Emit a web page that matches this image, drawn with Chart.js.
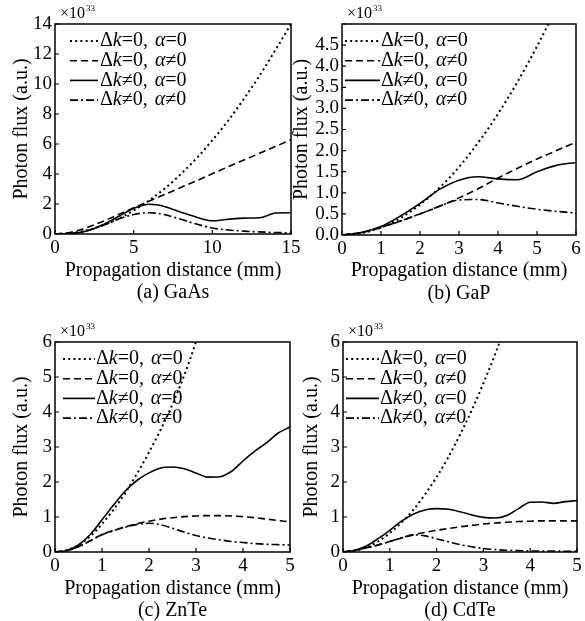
<!DOCTYPE html>
<html>
<head>
<meta charset="utf-8">
<script src="https://cdn.jsdelivr.net/npm/chart.js@4.4.1/dist/chart.umd.min.js"></script>
<style>
  html, body { margin: 0; padding: 0; background: #fff; width: 585px; height: 621px; overflow: hidden; }
  body { position: relative; }
  canvas { position: absolute; }
</style>
</head>
<body>
<canvas id="gaas" width="300" height="310" style="left:0;top:0"></canvas>
<canvas id="gap" width="295" height="310" style="left:290px;top:0"></canvas>
<canvas id="znte" width="300" height="318" style="left:0;top:310px"></canvas>
<canvas id="cdte" width="295" height="318" style="left:290px;top:310px"></canvas>
<script>
// legend labels, same order in every panel
const seriesLabels = ["Δk=0, α=0", "Δk=0, α≠0", "Δk≠0, α=0", "Δk≠0, α≠0"];

// (a) GaAs
const gaasX = [0, 1, 2, 3, 4, 5, 6, 7, 8, 9, 10, 11, 12, 13, 14, 15];
const gaasDotted = [0, 0.06, 0.25, 0.56, 1.0, 1.56, 2.25, 3.05, 4.0, 5.05, 6.25, 7.55, 9.0, 10.55, 12.25, 14.0];
const gaasDashed = [0, 0.12, 0.42, 0.82, 1.28, 1.75, 2.2, 2.65, 3.1, 3.55, 4.02, 4.48, 4.93, 5.38, 5.83, 6.28];
const gaasSolid = [0, 0.03, 0.2, 0.6, 1.15, 1.7, 1.98, 1.82, 1.45, 1.12, 0.88, 0.98, 1.06, 1.08, 1.4, 1.42];
const gaasDashDot = [0, 0.03, 0.2, 0.55, 0.98, 1.3, 1.42, 1.28, 0.98, 0.66, 0.4, 0.27, 0.19, 0.14, 0.1, 0.08];

// (b) GaP
const gapX = [0, 0.5, 1, 1.5, 2, 2.5, 3, 3.5, 4, 4.5, 5, 5.5, 6];
const gapDotted = [0, 0.045, 0.18, 0.4, 0.72, 1.12, 1.61, 2.2, 2.87, 3.63, 4.47, 5.4, 6.4];
const gapDashed = [0, 0.06, 0.18, 0.33, 0.5, 0.68, 0.88, 1.1, 1.35, 1.58, 1.8, 2.0, 2.2];
const gapSolid = [0, 0.06, 0.2, 0.45, 0.75, 1.08, 1.3, 1.38, 1.33, 1.31, 1.5, 1.65, 1.72];
const gapDashDot = [0, 0.06, 0.18, 0.33, 0.5, 0.68, 0.83, 0.84, 0.76, 0.68, 0.61, 0.56, 0.52];

// (c) ZnTe
const znteX = [0, 0.25, 0.5, 0.75, 1, 1.25, 1.5, 1.75, 2, 2.25, 2.5, 2.75, 3, 3.25, 3.5, 3.75, 4, 4.25, 4.5, 4.75, 5];
const znteDotted = [0, 0.05, 0.2, 0.45, 0.8, 1.22, 1.7, 2.25, 2.85, 3.5, 4.22, 5.05, 6.0, 7.0];
const znteDashed = [0, 0.04, 0.15, 0.32, 0.5, 0.62, 0.72, 0.81, 0.88, 0.94, 0.98, 1.01, 1.03, 1.04, 1.04, 1.03, 1.01, 0.98, 0.94, 0.9, 0.86];
const znteSolid = [0, 0.04, 0.2, 0.5, 0.92, 1.35, 1.75, 2.05, 2.26, 2.4, 2.43, 2.38, 2.26, 2.14, 2.15, 2.3, 2.6, 2.88, 3.12, 3.4, 3.57];
const znteDashDot = [0, 0.04, 0.15, 0.32, 0.49, 0.61, 0.71, 0.79, 0.82, 0.78, 0.68, 0.57, 0.47, 0.4, 0.35, 0.3, 0.27, 0.24, 0.22, 0.21, 0.2];

// (d) CdTe
const cdteX = [0, 0.25, 0.5, 0.75, 1, 1.25, 1.5, 1.75, 2, 2.25, 2.5, 2.75, 3, 3.25, 3.5, 3.75, 4, 4.25, 4.5, 4.75, 5];
const cdteDotted = [0, 0.03, 0.13, 0.3, 0.54, 0.84, 1.2, 1.64, 2.14, 2.71, 3.35, 4.05, 4.82, 5.65, 6.55];
const cdteDashed = [0, 0.05, 0.12, 0.2, 0.3, 0.4, 0.49, 0.56, 0.62, 0.67, 0.72, 0.76, 0.8, 0.83, 0.85, 0.87, 0.88, 0.89, 0.89, 0.89, 0.89];
const cdteSolid = [0, 0.05, 0.17, 0.38, 0.62, 0.88, 1.08, 1.2, 1.24, 1.22, 1.15, 1.06, 0.99, 0.97, 1.04, 1.24, 1.42, 1.43, 1.39, 1.44, 1.47];
const cdteDashDot = [0, 0.05, 0.12, 0.2, 0.3, 0.4, 0.49, 0.46, 0.38, 0.29, 0.21, 0.15, 0.1, 0.07, 0.05, 0.04, 0.03, 0.03, 0.03, 0.02, 0.02];

const serif = "'Liberation Serif', 'Times New Roman', serif";
const lineDashes = [[2, 3.2], [7, 4], [], [8, 3, 2, 3]]; // dotted, dashed, solid, dash-dot
const lineWidths = [2, 1.6, 1.6, 1.6];

function toPoints(xs, ys) {
  return xs.map((x, i) => ({ x: x, y: ys[i] })).filter((p) => p.y !== undefined && p.y !== null);
}

// frame, inward ticks, x10^33 note, caption and legend with italic k / alpha
const paperPlugin = {
  id: "paper",
  afterDraw(chart) {
    const { ctx, chartArea: a, scales } = chart;
    const opts = chart.options.plugins.paper;
    ctx.save();
    ctx.strokeStyle = "#000";
    ctx.lineWidth = 1.5;
    ctx.setLineDash([]);
    ctx.strokeRect(a.left, a.top, a.right - a.left, a.bottom - a.top);
    ctx.lineWidth = 1.2;
    ctx.beginPath();
    scales.y.ticks.forEach((t) => {
      const py = scales.y.getPixelForValue(t.value);
      ctx.moveTo(a.left, py);
      ctx.lineTo(a.left + 4, py);
    });
    scales.x.ticks.forEach((t) => {
      const px = scales.x.getPixelForValue(t.value);
      ctx.moveTo(px, a.bottom);
      ctx.lineTo(px, a.bottom - 4);
    });
    ctx.stroke();

    // exponent note
    ctx.fillStyle = "#000";
    ctx.textBaseline = "middle";
    ctx.textAlign = "left";
    ctx.font = "16px " + serif;
    ctx.fillText("×10", a.left + 5, a.top - 10);
    const w = ctx.measureText("×10").width;
    ctx.font = "9px " + serif;
    ctx.fillText("33", a.left + 6 + w, a.top - 15);

    // caption
    ctx.textAlign = "center";
    ctx.font = "20px " + serif;
    ctx.fillText(opts.caption, (a.left + a.right) / 2, a.bottom + 59);

    // legend
    ctx.textAlign = "left";
    chart.data.datasets.forEach((ds, i) => {
      const y = a.top + 17 + i * 19.7;
      ctx.save();
      ctx.lineWidth = ds.borderWidth;
      ctx.setLineDash(ds.borderDash || []);
      ctx.beginPath();
      ctx.moveTo(a.left + opts.legendX[0], y);
      ctx.lineTo(a.left + opts.legendX[1], y);
      ctx.stroke();
      ctx.restore();
      let x = a.left + opts.legendX[2];
      for (const ch of ds.label) {
        ctx.font = (ch === "k" || ch === "α" ? "italic " : "") + "20px " + serif;
        ctx.fillText(ch, x, y);
        x += ctx.measureText(ch).width + (ch === "," ? 2 : 0);
      }
    });
    ctx.restore();
  },
};

function makePanel(id, xs, ys, p) {
  const datasets = ys.map((arr, i) => ({
    label: seriesLabels[i],
    data: toPoints(xs, arr),
    borderColor: "#000",
    borderWidth: lineWidths[i],
    borderDash: lineDashes[i],
    pointRadius: 0,
    cubicInterpolationMode: "monotone",
    fill: false,
  }));
  return new Chart(document.getElementById(id).getContext("2d"), {
    type: "line",
    data: { datasets: datasets },
    plugins: [paperPlugin],
    options: {
      responsive: false,
      animation: false,
      layout: { autoPadding: false, padding: p.pad },
      plugins: {
        legend: { display: false },
        tooltip: { enabled: false },
        paper: { caption: p.caption, legendX: p.legendX },
      },
      scales: {
        x: {
          type: "linear",
          min: 0,
          max: p.xMax,
          ticks: { stepSize: p.xStep, padding: 3, color: "#000", font: { family: serif, size: 19 }, maxRotation: 0, autoSkip: false },
          grid: { display: false, drawTicks: false },
          border: { display: false },
          title: { display: true, text: "Propagation distance (mm)", color: "#000", font: { family: serif, size: 20 }, padding: { top: 0, bottom: 27 } },
          afterFit(s) {
            s.height = p.xHeight;
            s.paddingLeft = 0;
            s.paddingRight = 0;
          },
        },
        y: {
          min: 0,
          max: p.yMax,
          ticks: { stepSize: p.yStep, padding: 3, color: "#000", font: { family: serif, size: 19 }, callback: p.yFormat, autoSkip: false },
          grid: { display: false, drawTicks: false },
          border: { display: false },
          title: { display: true, text: "Photon flux (a.u.)", color: "#000", font: { family: serif, size: 20 }, padding: { top: p.yTitlePad, bottom: 0 } },
          afterFit(s) {
            s.width = p.yWidth;
            s.paddingTop = 0;
            s.paddingBottom = 0;
          },
        },
      },
    },
  });
}

makePanel("gaas", gaasX, [gaasDotted, gaasDashed, gaasSolid, gaasDashDot], {
  caption: "(a) GaAs", xMax: 15, xStep: 5, yMax: 14, yStep: 2,
  yFormat: (v) => v, pad: { left: 0, top: 24, right: 9, bottom: 0 },
  yWidth: 55, xHeight: 76, yTitlePad: 10, legendX: [15, 43, 45],
});
makePanel("gap", gapX, [gapDotted, gapDashed, gapSolid, gapDashDot], {
  caption: "(b) GaP", xMax: 6, xStep: 1, yMax: 5, yStep: 0.5,
  yFormat: (v) => (v >= 5 ? "" : v.toFixed(1)), pad: { left: 0, top: 24, right: 9, bottom: 0 },
  yWidth: 52, xHeight: 75, yTitlePad: 0, legendX: [3, 38, 39],
});
makePanel("znte", znteX, [znteDotted, znteDashed, znteSolid, znteDashDot], {
  caption: "(c) ZnTe", xMax: 5, xStep: 1, yMax: 6, yStep: 1,
  yFormat: (v) => v, pad: { left: 0, top: 32, right: 10, bottom: 0 },
  yWidth: 55, xHeight: 76, yTitlePad: 10, legendX: [8, 40, 41],
});
makePanel("cdte", cdteX, [cdteDotted, cdteDashed, cdteSolid, cdteDashDot], {
  caption: "(d) CdTe", xMax: 5, xStep: 1, yMax: 6, yStep: 1,
  yFormat: (v) => v, pad: { left: 0, top: 32, right: 8, bottom: 0 },
  yWidth: 53, xHeight: 76, yTitlePad: 10, legendX: [3, 36, 37],
});
</script>
</body>
</html>
